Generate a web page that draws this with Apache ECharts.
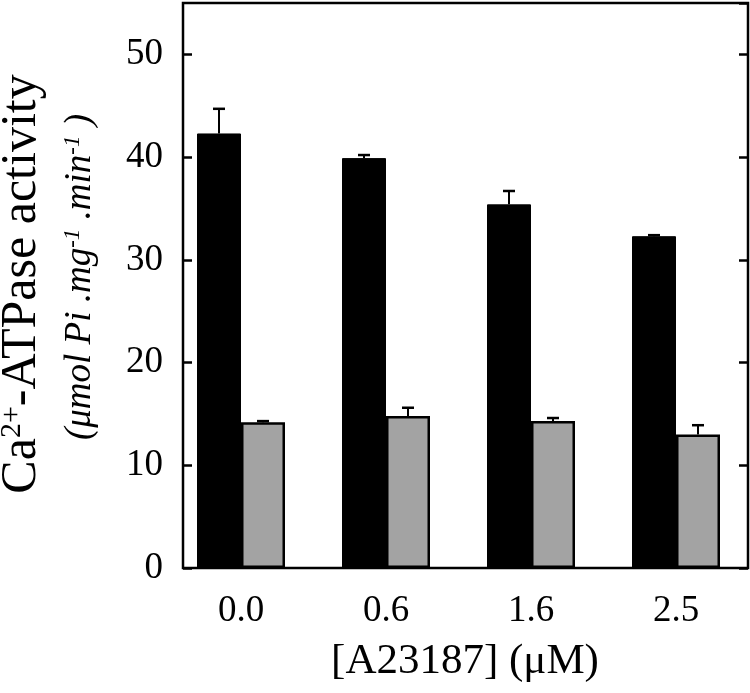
<!DOCTYPE html>
<html><head><meta charset="utf-8">
<script src="https://cdn.jsdelivr.net/npm/echarts@6/dist/echarts.min.js"></script>
<style>html,body{margin:0;padding:0;background:#fff}#c{width:750px;height:693px}</style>
</head><body><div id="c"></div>
<script>
const categories = ['0.0', '0.6', '1.6', '2.5'];
const blackValues = [42.3, 39.9, 35.4, 32.3];
const blackErrors = [2.4, 0.3, 1.3, 0.1];
const greyValues = [14.2, 14.8, 14.3, 13.0];
const greyErrors = [0.1, 0.8, 0.3, 0.9];
const yMin = 0, yMax = 55, yStep = 10;

const FONT = '"Liberation Serif", "Times New Roman", Times, serif';
const chart = echarts.init(document.getElementById('c'), null, {renderer: 'canvas'});

function errRender(offset) {
  return function (params, api) {
    const x = api.value(0), v = api.value(1), e = api.value(2);
    const p0 = api.coord([x, v]);
    const p1 = api.coord([x, v + e]);
    const cx = p0[0] + offset;
    return {
      type: 'group',
      children: [
        {type: 'line', shape: {x1: cx, y1: p0[1], x2: cx, y2: p1[1]}, style: {stroke: '#000', lineWidth: 2}},
        {type: 'line', shape: {x1: cx - 6, y1: p1[1], x2: cx + 6, y2: p1[1]}, style: {stroke: '#000', lineWidth: 2.5}}
      ]
    };
  };
}

const option = {
  animation: false,
  backgroundColor: '#fff',
  grid: [
    {left: 183, right: 2, top: 3, bottom: 125, show: true, borderColor: '#000', borderWidth: 2.5, backgroundColor: 'transparent', z: 5},
    {left: 168.5, width: 580, top: 3, bottom: 125}
  ],
  xAxis: [
    {gridIndex: 0, type: 'value', min: 0, max: 1, show: false},
    {gridIndex: 1, type: 'category', data: categories,
      axisLine: {show: false}, axisTick: {show: false},
      axisLabel: {fontFamily: FONT, fontSize: 37, color: '#000', margin: 25}}
  ],
  yAxis: [
    {gridIndex: 0, type: 'value', min: yMin, max: yMax, interval: yStep, position: 'left',
      axisLine: {show: false}, splitLine: {show: false},
      axisTick: {show: true, inside: true, length: 9, lineStyle: {color: '#000', width: 2.5}},
      axisLabel: {fontFamily: FONT, fontSize: 37, color: '#000', margin: 20, showMaxLabel: false}},
    {gridIndex: 0, type: 'value', min: yMin, max: yMax, interval: yStep, position: 'right',
      axisLine: {show: false}, splitLine: {show: false},
      axisTick: {show: true, inside: true, length: 9, lineStyle: {color: '#000', width: 2.5}},
      axisLabel: {show: false}},
    {gridIndex: 1, type: 'value', min: yMin, max: yMax, show: false, splitLine: {show: false}}
  ],
  series: [
    {type: 'bar', xAxisIndex: 1, yAxisIndex: 2, data: blackValues, barWidth: 44, barGap: '0%',
      itemStyle: {color: '#000', borderColor: '#000', borderWidth: 1}},
    {type: 'bar', xAxisIndex: 1, yAxisIndex: 2, data: greyValues, barWidth: 44, barGap: '0%',
      itemStyle: {color: '#a3a3a3', borderColor: '#000', borderWidth: 2.5}},
    {type: 'custom', xAxisIndex: 1, yAxisIndex: 2, renderItem: errRender(-22), z: 3,
      data: blackValues.map((v, i) => [i, v, blackErrors[i]])},
    {type: 'custom', xAxisIndex: 1, yAxisIndex: 2, renderItem: errRender(22), z: 3,
      data: greyValues.map((v, i) => [i, v, greyErrors[i]])}
  ],
  graphic: [
    {type: 'text', x: 22, y: 284, rotation: Math.PI / 2,
      style: {text: '{n|Ca}{s|2+}{n|-ATPase activity}', align: 'center', verticalAlign: 'middle',
        rich: {n: {fontFamily: FONT, fontSize: 50, color: '#000'},
               s: {fontFamily: FONT, fontSize: 30, color: '#000', verticalAlign: 'top'}}}},
    {type: 'text', x: 80, y: 277, rotation: Math.PI / 2,
      style: {text: '{n|(μmol Pi .mg}{s|-1}{n| .min}{s|-1}{n| )}', align: 'center', verticalAlign: 'middle',
        rich: {n: {fontFamily: FONT, fontSize: 37, fontStyle: 'italic', color: '#000'},
               s: {fontFamily: FONT, fontSize: 23, fontStyle: 'italic', color: '#000', verticalAlign: 'top'}}}},
    {type: 'text', x: 465, y: 662,
      style: {text: '[A23187] (μM)', align: 'center', verticalAlign: 'middle',
        fontFamily: FONT, fontSize: 43, fill: '#000'}}
  ]
};
chart.setOption(option);
</script>
</body></html>
